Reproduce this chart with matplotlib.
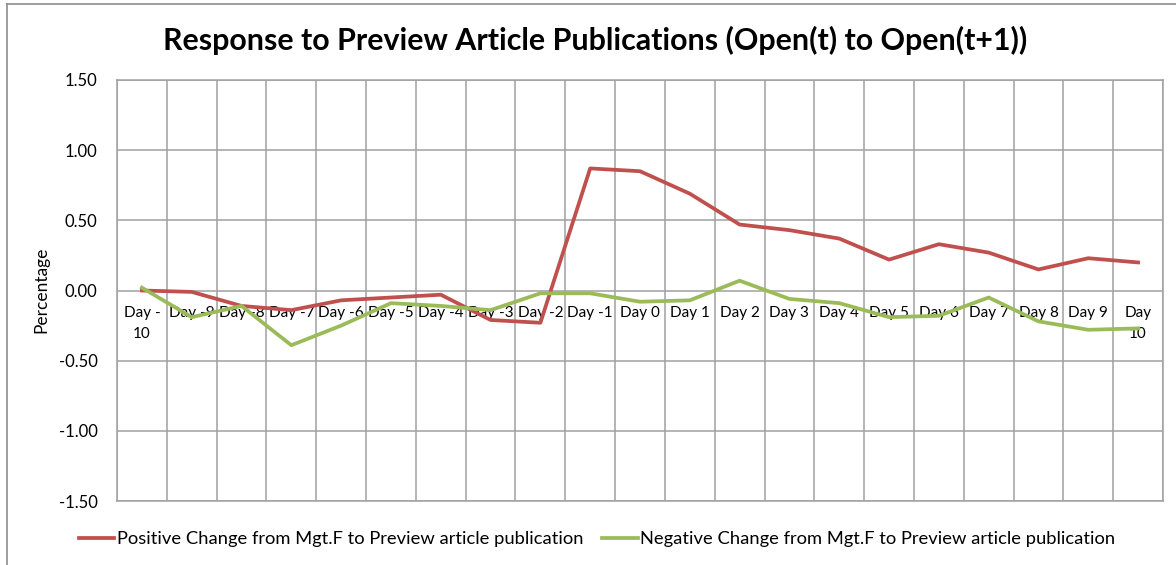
import matplotlib
matplotlib.use("Agg")
import matplotlib.pyplot as plt
from matplotlib.lines import Line2D
import numpy as np

plt.rcParams['font.family'] = ['Lato', 'DejaVu Sans']

categories = ["Day -10", "Day -9", "Day -8", "Day -7", "Day -6", "Day -5", "Day -4",
              "Day -3", "Day -2", "Day -1", "Day 0", "Day 1", "Day 2", "Day 3",
              "Day 4", "Day 5", "Day 6", "Day 7", "Day 8", "Day 9", "Day 10"]
tick_labels = ["Day -\n10", "Day -9", "Day -8", "Day -7", "Day -6", "Day -5", "Day -4",
               "Day -3", "Day -2", "Day -1", "Day 0", "Day 1", "Day 2", "Day 3",
               "Day 4", "Day 5", "Day 6", "Day 7", "Day 8", "Day 9", "Day\n10"]
positive = [0.00, -0.01, -0.11, -0.14, -0.07, -0.05, -0.03, -0.21, -0.23, 0.87, 0.85,
            0.69, 0.47, 0.43, 0.37, 0.22, 0.33, 0.27, 0.15, 0.23, 0.20]
negative = [0.02, -0.19, -0.11, -0.39, -0.25, -0.09, -0.11, -0.14, -0.02, -0.02, -0.08,
            -0.07, 0.07, -0.06, -0.09, -0.19, -0.18, -0.05, -0.22, -0.28, -0.27]
pos_label = "Positive Change from Mgt.F to Preview article publication"
neg_label = "Negative Change from Mgt.F to Preview article publication"
title = "Response to Preview Article Publications (Open(t) to Open(t+1))"
y_ticks = [1.5, 1.0, 0.5, 0.0, -0.5, -1.0, -1.5]

W, H = 1176, 565
fig = plt.figure(figsize=(W / 100, H / 100), dpi=100)
ax = fig.add_axes([117 / W, 1 - 501 / H, (1163 - 117) / W, (501 - 80) / H])

x = np.arange(len(categories))
red = "#C0504D"
green = "#9BBB59"
grid_c = "#A0A0A0"

ax.plot(x, positive, color=red, lw=2.7, solid_joinstyle='round', label=pos_label, zorder=3)
ax.plot(x, negative, color=green, lw=2.7, solid_joinstyle='round', label=neg_label, zorder=3)

ax.set_xlim(-0.5, len(categories) - 0.5)
ax.set_ylim(-1.5, 1.5)
ax.set_xticks(np.arange(-0.5, len(categories)))
ax.set_xticklabels([])
ax.set_yticks(y_ticks)
ax.set_yticklabels([f"{v:.2f}" for v in y_ticks], fontsize=12)
ax.tick_params(axis='both', length=0, pad=14, colors='black')
ax.grid(True, color=grid_c, lw=1.1)
for s in ax.spines.values():
    s.set_color(grid_c)
    s.set_linewidth(1.1)

for i, lab in enumerate(tick_labels):
    ax.annotate(lab, xy=(i, 0), xytext=(0, -15), textcoords='offset pixels',
                ha='center', va='top', fontsize=11, linespacing=1.7, zorder=2)

fig.text(41 / W, 1 - 290 / H, "Percentage", rotation=90, ha='center', va='center', fontsize=12.5)

t = fig.text(595 / W, 1 - 40 / H, title, ha='center', va='center', fontsize=20, fontweight='bold')
# fit title width to ~864 px
fig.canvas.draw()
r = fig.canvas.get_renderer()
wt = t.get_window_extent(r).width
t.set_fontsize(20 * 864 / wt)

leg = fig.legend(loc='center', bbox_to_anchor=(597 / W, 1 - 539 / H), ncol=2, frameon=False,
                 fontsize=13.2, handlelength=1.95, handletextpad=0.15, columnspacing=1.0)

# outer chart border (top and left)
fig.add_artist(Line2D([7 / W, 1], [1 - 4 / H, 1 - 4 / H], transform=fig.transFigure, color="#8C8C8C", lw=1.2))
fig.add_artist(Line2D([7 / W, 7 / W], [0, 1 - 4 / H], transform=fig.transFigure, color="#8C8C8C", lw=1.2))

fig.savefig("out.png", dpi=100)
